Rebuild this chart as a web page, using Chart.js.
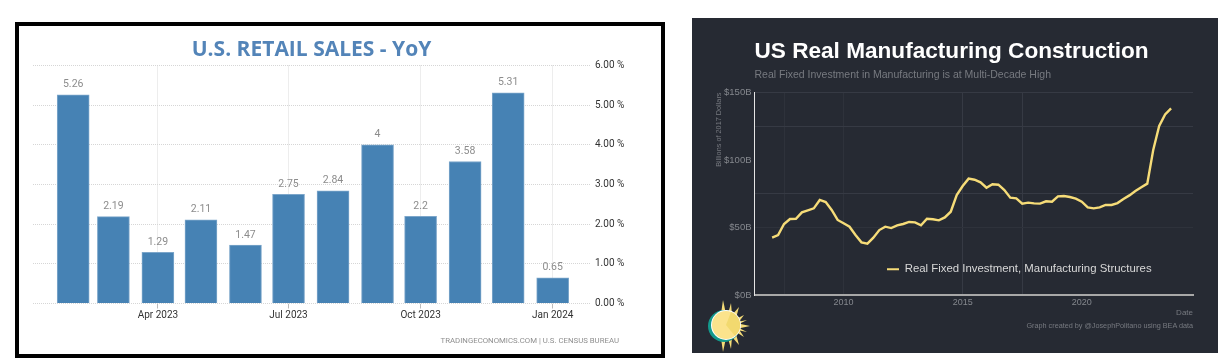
<!DOCTYPE html>
<html lang="en">

<head>
    <meta charset="UTF-8">
    <title>US retail sales and manufacturing construction</title>
    <script src="https://cdn.jsdelivr.net/npm/chart.js@4/dist/chart.umd.min.js"></script>
    <style>
        html, body { margin: 0; padding: 0; background: #fff; width: 1230px; height: 364px; overflow: hidden; }
        .frame { position: absolute; left: 15px; top: 22px; width: 650px; height: 336px; box-sizing: border-box; border: 4px solid #000; background: #fff; }
        .panel { position: absolute; left: 692px; top: 18px; width: 526px; height: 335px; background: #262a33; }
        canvas { position: absolute; left: 0; top: 0; }
        .note { position: absolute; white-space: nowrap; text-align: right; }
        #retailNote { right: 42px; top: 310px; font: 7.8px Roboto, sans-serif; color: #8f8f8f; }
        #constructionNote { right: 25px; top: 303px; font: 7.25px "Liberation Sans", sans-serif; color: #777a80; }
        #sun { position: absolute; left: 14px; top: 280px; }
    </style>
</head>

<body>
    <div class="frame">
        <canvas id="retailChart" width="642" height="328"></canvas>
        <div class="note" id="retailNote">TRADINGECONOMICS.COM | U.S. CENSUS BUREAU</div>
    </div>
    <div class="panel">
        <canvas id="constructionChart" width="526" height="335"></canvas>
        <div class="note" id="constructionNote">Graph created by @JosephPolitano using BEA data</div>
        <svg id="sun" width="50" height="56" viewBox="0 0 50 56">
            <g fill="#f5dc78">
                <polygon points="17,2 20,16 15,16"></polygon>
                <polygon points="17,54 20,40 15,40"></polygon>
                <polygon points="44,28 30,25 30,31"></polygon>
                <polygon points="33,9 26,17 30,20"></polygon>
                <polygon points="38,17 30,21 32,25"></polygon>
                <polygon points="38,39 30,34 32,30"></polygon>
                <polygon points="33,47 26,39 30,36"></polygon>
                <polygon points="25,5 22,16 26,17"></polygon>
                <polygon points="25,51 22,40 26,39"></polygon>
                <polygon points="41,22 31,24 31,27"></polygon>
                <polygon points="41,34 31,32 31,29"></polygon>
            </g>
            <circle cx="18" cy="28" r="16" fill="#13998c"></circle>
            <circle cx="20" cy="27" r="15" fill="#fff"></circle>
            <circle cx="20" cy="27" r="14" fill="#fbe38c"></circle>
            <path d="M20,27 L25,14 A14,14 0 0 1 29,38 Z" fill="#f2d96f"></path>
        </svg>
    </div>

    <script>
        // retail sales, first day of each month
        let retailDates = ['2023-02-01', '2023-03-01', '2023-04-01', '2023-05-01', '2023-06-01', '2023-07-01',
            '2023-08-01', '2023-09-01', '2023-10-01', '2023-11-01', '2023-12-01', '2024-01-01'];
        let retailValues = [5.26, 2.19, 1.29, 2.11, 1.47, 2.75, 2.84, 4, 2.2, 3.58, 5.31, 0.65];
        let retailTickDates = ['2023-04-01', '2023-07-01', '2023-10-01', '2024-01-01'];
        let retailTickLabels = ['Apr 2023', 'Jul 2023', 'Oct 2023', 'Jan 2024'];

        // construction, quarterly
        let quarters = [
            2007, 2007.25, 2007.5, 2007.75, 2008, 2008.25, 2008.5, 2008.75,
            2009, 2009.25, 2009.5, 2009.75, 2010, 2010.25, 2010.5, 2010.75,
            2011, 2011.25, 2011.5, 2011.75, 2012, 2012.25, 2012.5, 2012.75,
            2013, 2013.25, 2013.5, 2013.75, 2014, 2014.25, 2014.5, 2014.75,
            2015, 2015.25, 2015.5, 2015.75, 2016, 2016.25, 2016.5, 2016.75,
            2017, 2017.25, 2017.5, 2017.75, 2018, 2018.25, 2018.5, 2018.75,
            2019, 2019.25, 2019.5, 2019.75, 2020, 2020.25, 2020.5, 2020.75,
            2021, 2021.25, 2021.5, 2021.75, 2022, 2022.25, 2022.5, 2022.75,
            2023, 2023.25, 2023.5, 2023.75];
        let investment = [
            42.5, 44.4, 52.6, 56.3, 56.5, 61.2, 62.7, 64.2,
            70.4, 68.9, 63, 55.6, 53.1, 50.6, 44.4, 39,
            38, 42.5, 48.1, 50.6, 49.6, 51.6, 52.6, 54.1,
            53.8, 51.6, 56.5, 56.1, 55.3, 57.5, 61.7, 74.1,
            80.7, 86.2, 85.4, 83.5, 79.5, 82, 81.7, 77.8,
            72.1, 71.6, 67.7, 68.4, 67.9, 67.7, 69.4, 69.1,
            73.1, 73.3, 72.6, 71.4, 69.1, 64.9, 64.2, 64.9,
            66.7, 66.7, 68.1, 71.1, 73.8, 77, 79.8, 82.5,
            107.4, 125.2, 133.8, 138.3];
        let yearGridTicks = [2007.5, 2010, 2015, 2017.5, 2020];
        let dollarGridTicks = [0, 25, 50, 75, 100, 125, 150];

        // value labels over the bars
        let barLabels = {
            id: 'barLabels',
            afterDatasetsDraw(chart) {
                let ctx = chart.ctx;
                ctx.save();
                ctx.font = '10.5px Roboto, sans-serif';
                ctx.fillStyle = '#8c8c8c';
                ctx.textAlign = 'center';
                ctx.textBaseline = 'bottom';
                chart.getDatasetMeta(0).data.forEach((bar, i) => {
                    ctx.fillText(String(retailValues[i]), bar.x, bar.y - 5);
                });
                ctx.restore();
            }
        };

        new Chart(document.getElementById('retailChart').getContext('2d'), {
            type: 'bar',
            data: {
                datasets: [{
                    label: 'U.S. Retail Sales YoY',
                    data: retailDates.map((d, i) => ({ x: Date.parse(d), y: retailValues[i] })),
                    backgroundColor: '#4682b4',
                    borderColor: '#7ca6ca',
                    borderWidth: 1,
                    borderSkipped: 'bottom',
                    barThickness: 32
                }]
            },
            options: {
                responsive: false,
                animation: false,
                layout: { autoPadding: false, padding: { left: 14 } },
                plugins: {
                    legend: { display: false },
                    tooltip: { enabled: false },
                    title: {
                        display: true,
                        fullSize: false,
                        text: 'U.S. RETAIL SALES - YoY',
                        color: '#5384b8',
                        font: { family: '"Open Sans"', size: 21, weight: 'bold', lineHeight: 1.2 },
                        padding: { top: 11, bottom: 3.3 }
                    }
                },
                scales: {
                    x: {
                        type: 'linear',
                        offset: false,
                        min: Date.parse('2023-01-04'),
                        max: Date.parse('2024-01-27'),
                        afterBuildTicks(axis) {
                            axis.ticks = retailTickDates.map(d => ({ value: Date.parse(d) }));
                        },
                        afterFit(axis) { axis.height = 50.5; },
                        border: { display: false, dash: [1, 1] },
                        grid: { offset: false, color: '#dcdcdc', tickColor: '#bbbbbb', tickLength: 5, tickBorderDash: [] },
                        ticks: {
                            autoSkip: false,
                            maxRotation: 0,
                            padding: 1,
                            color: '#333333',
                            font: { family: 'Roboto', size: 10 },
                            callback: (v, i) => retailTickLabels[i]
                        }
                    },
                    y: {
                        position: 'right',
                        min: 0,
                        max: 6,
                        afterFit(axis) { axis.width = 71; },
                        border: { display: false, dash: [1, 1] },
                        grid: { color: '#d6d6d6', drawTicks: false },
                        ticks: {
                            stepSize: 1,
                            padding: 5,
                            color: '#333333',
                            font: { family: 'Roboto', size: 10 },
                            callback: v => v.toFixed(2) + ' %'
                        }
                    }
                }
            },
            plugins: [barLabels]
        });

        // move the legend into the plot area
        let legendSpot = {
            id: 'legendSpot',
            afterLayout(chart) {
                let legend = chart.legend;
                legend.left = chart.chartArea.left + 132.5;
                legend.right = legend.left + 300;
                legend.top = chart.chartArea.top + 171;
                legend.bottom = legend.top + 16;
            }
        };

        let gridColor = '#363a44';
        let faintGrid = '#2e323b';
        new Chart(document.getElementById('constructionChart').getContext('2d'), {
            type: 'line',
            data: {
                datasets: [{
                    label: 'Real Fixed Investment, Manufacturing Structures',
                    data: quarters.map((q, i) => ({ x: q, y: investment[i] })),
                    borderColor: '#f6dc78',
                    backgroundColor: '#f6dc78',
                    borderWidth: 2.4,
                    pointRadius: 0,
                    tension: 0
                }]
            },
            options: {
                responsive: false,
                animation: false,
                layout: { autoPadding: false, padding: { right: 25 } },
                plugins: {
                    tooltip: { enabled: false },
                    title: {
                        display: true,
                        fullSize: false,
                        align: 'start',
                        text: 'US Real Manufacturing Construction',
                        color: '#ffffff',
                        font: { family: '"Liberation Sans"', size: 22.6, weight: 'bold', lineHeight: 1.2 },
                        padding: { top: 20.4, bottom: 3.2 }
                    },
                    subtitle: {
                        display: true,
                        fullSize: false,
                        align: 'start',
                        text: 'Real Fixed Investment in Manufacturing is at Multi-Decade High',
                        color: '#777a80',
                        font: { family: '"Liberation Sans"', size: 10.5, lineHeight: 1.2 },
                        padding: { top: 0, bottom: 11.2 }
                    },
                    legend: {
                        position: 'chartArea',
                        align: 'start',
                        labels: {
                            boxWidth: 12,
                            boxHeight: 2,
                            padding: 0,
                            color: '#d8d8d8',
                            font: { family: '"Liberation Sans"', size: 11.4 },
                            generateLabels(chart) {
                                let items = Chart.defaults.plugins.legend.labels.generateLabels(chart);
                                items.forEach(item => { item.lineWidth = 0; });
                                return items;
                            }
                        }
                    }
                },
                scales: {
                    x: {
                        type: 'linear',
                        min: 2006.26,
                        max: 2024.67,
                        afterBuildTicks(axis) {
                            axis.ticks = yearGridTicks.map(value => ({ value }));
                        },
                        afterFit(axis) { axis.height = 58; },
                        border: { display: true, color: '#a8a8a8', width: 2 },
                        grid: {
                            drawTicks: false,
                            color: c => {
                                if (c.tick.value === 2020) return 'transparent';
                                return c.tick.value < 2012 ? faintGrid : gridColor;
                            }
                        },
                        ticks: {
                            autoSkip: false,
                            maxRotation: 0,
                            padding: 2,
                            color: '#85888e',
                            font: { family: '"Liberation Sans"', size: 9 },
                            callback: v => (v % 5 === 0 ? String(v) : '')
                        },
                        title: {
                            display: true,
                            align: 'end',
                            text: 'Date',
                            color: '#777a80',
                            font: { family: '"Liberation Sans"', size: 8 },
                            padding: { top: 0, bottom: 35 }
                        }
                    },
                    y: {
                        min: 0,
                        max: 150,
                        afterBuildTicks(axis) {
                            axis.ticks = dollarGridTicks.map(value => ({ value }));
                        },
                        afterFit(axis) { axis.width = 62.5; },
                        border: { display: true, color: '#e4e4e4', width: 1 },
                        grid: {
                            drawTicks: false,
                            color: c => {
                                if (c.tick.value === 100 || c.tick.value === 25) return 'transparent';
                                return c.tick.value === 50 ? faintGrid : gridColor;
                            }
                        },
                        ticks: {
                            autoSkip: false,
                            padding: 3,
                            color: '#85888e',
                            font: { family: '"Liberation Sans"', size: 9.5 },
                            callback: v => (v % 50 === 0 ? '$' + v + 'B' : '')
                        },
                        title: {
                            display: true,
                            align: 'end',
                            text: 'Billions of 2017 Dollars',
                            color: '#777a80',
                            font: { family: '"Liberation Sans"', size: 7.3 },
                            padding: { top: 23, bottom: 0 }
                        }
                    }
                }
            },
            plugins: [legendSpot]
        });
    </script>
</body>

</html>
